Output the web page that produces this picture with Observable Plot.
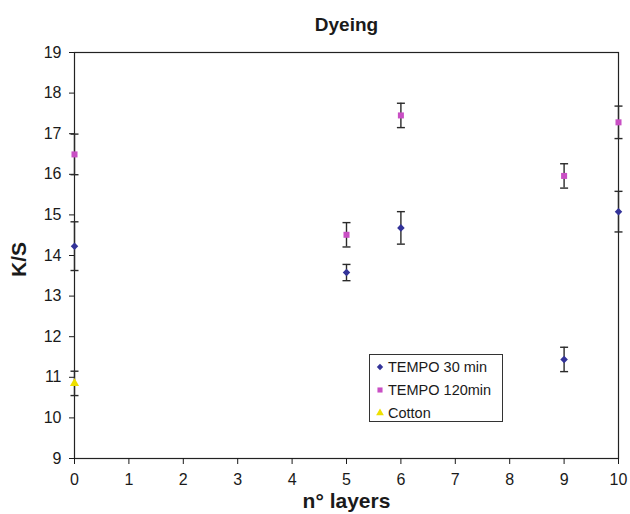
<!DOCTYPE html>
<html>
<head>
<meta charset="utf-8">
<script src="https://cdn.jsdelivr.net/npm/d3@7"></script>
<script src="https://cdn.jsdelivr.net/npm/@observablehq/plot@0.6"></script>
<style>
  html, body { margin: 0; padding: 0; background: #fff; }
  #wrap { position: relative; width: 630px; height: 514px; font-family: "Liberation Sans", Arial, Helvetica, sans-serif; color: #1a1a1a; }
  #legend { position: absolute; left: 369px; top: 354px; width: 132px; height: 66px; border: 1px solid #333; background: #fff; font-size: 14.5px; }
  #legend .row { position: absolute; left: 5px; height: 18px; display: flex; align-items: center; }
  #legend svg { margin-right: 3px; }
</style>
</head>
<body>
<div id="wrap"></div>
<script>
// Data
const seriesNames = ["TEMPO 30 min", "TEMPO 120min", "Cotton"];
const layers30 = [0, 5, 6, 9, 10];
const ks30 = [14.23, 13.58, 14.68, 11.44, 15.08];
const err30 = [0.6, 0.2, 0.4, 0.3, 0.5];
const layers120 = [0, 5, 6, 9, 10];
const ks120 = [16.49, 14.51, 17.45, 15.96, 17.28];
const err120 = [0.5, 0.3, 0.3, 0.3, 0.4];
const layersCotton = [0];
const ksCotton = [10.85];
const errCotton = [0.3];
const xTicks = [0, 1, 2, 3, 4, 5, 6, 7, 8, 9, 10];
const yTicks = [9, 10, 11, 12, 13, 14, 15, 16, 17, 18, 19];

const colors = {"TEMPO 30 min": "#333399", "TEMPO 120min": "#C94FC4", "Cotton": "#EEE000"};
const symbols = {"TEMPO 30 min": "diamond2", "TEMPO 120min": "square", "Cotton": "triangle"};

function build(name, xs, ys, es) {
  return xs.map((x, i) => ({series: name, x, ks: ys[i], err: es[i]}));
}
const data = [
  ...build(seriesNames[0], layers30, ks30, err30),
  ...build(seriesNames[1], layers120, ks120, err120),
  ...build(seriesNames[2], layersCotton, ksCotton, errCotton)
];

const capSymbol = {
  draw(context, size) {
    const r = Math.sqrt(size / Math.PI);
    context.moveTo(-r, 0);
    context.lineTo(r, 0);
  }
};

const font = '"Liberation Sans", Arial, Helvetica, sans-serif';

const chart = Plot.plot({
  width: 630,
  height: 514,
  marginLeft: 74,
  marginRight: 12,
  marginTop: 52,
  marginBottom: 56,
  style: {fontFamily: font, color: "#1a1a1a", background: "white"},
  x: {domain: [0, 10]},
  y: {domain: [9, 19]},
  marks: [
    Plot.frame({stroke: "#222", strokeWidth: 1.2}),
    Plot.axisY({ticks: yTicks, tickSize: 5, tickPadding: 8, fontSize: 16, label: null, tickFormat: d => d}),
    Plot.axisX({ticks: xTicks, tickSize: 6, tickPadding: 9, fontSize: 16, label: null, tickFormat: d => d}),
    Plot.ruleX(data, {x: "x", y1: d => d.ks - d.err, y2: d => d.ks + d.err, stroke: "#2a2a2a", strokeWidth: 1.4}),
    Plot.dot(data, {x: "x", y: d => d.ks + d.err, symbol: capSymbol, r: 4, fill: "none", stroke: "#2a2a2a", strokeWidth: 1.4}),
    Plot.dot(data, {x: "x", y: d => d.ks - d.err, symbol: capSymbol, r: 4, fill: "none", stroke: "#2a2a2a", strokeWidth: 1.4}),
    Plot.dot(data, {x: "x", y: "ks", symbol: d => symbols[d.series], fill: d => colors[d.series], r: 3.4, stroke: "none"}),
    Plot.text(["Dyeing"], {text: d => d, frameAnchor: "top", lineAnchor: "middle", dy: -28, fontSize: 19, fontWeight: "bold"}),
    Plot.text(["K/S"], {text: d => d, frameAnchor: "left", textAnchor: "middle", lineAnchor: "middle", dx: -55, dy: 4, rotate: -90, fontSize: 21, fontWeight: "bold"}),
    Plot.text(["n° layers"], {text: d => d, frameAnchor: "bottom", lineAnchor: "middle", dy: 43, fontSize: 21, fontWeight: "bold"})
  ]
});
chart.setAttribute("color", null);

const wrap = document.getElementById("wrap");
wrap.appendChild(chart);

// Legend (HTML overlay inside the plot area, as in the reference)
const legend = document.createElement("div");
legend.id = "legend";
const rowTops = [3, 26, 49];
seriesNames.forEach((name, i) => {
  const row = document.createElement("div");
  row.className = "row";
  row.style.top = rowTops[i] + "px";
  const s = d3.create("svg").attr("width", 10).attr("height", 10);
  s.append("path")
    .attr("transform", "translate(5,5)")
    .attr("d", d3.symbol(symbols[name] === "diamond2" ? d3.symbolDiamond2 : symbols[name] === "square" ? d3.symbolSquare : d3.symbolTriangle, 26)())
    .attr("fill", colors[name]);
  row.appendChild(s.node());
  const t = document.createElement("span");
  t.textContent = name;
  row.appendChild(t);
  legend.appendChild(row);
});
wrap.appendChild(legend);
</script>
</body>
</html>
